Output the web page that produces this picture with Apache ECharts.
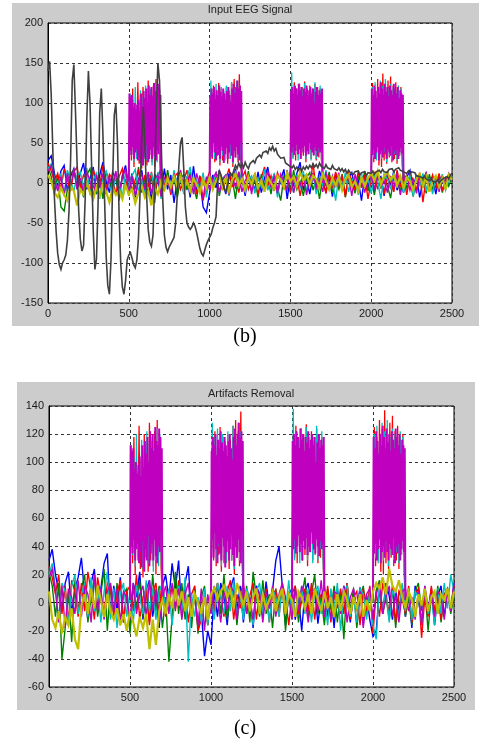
<!DOCTYPE html>
<html>
<head>
<meta charset="utf-8">
<script src="https://cdn.jsdelivr.net/npm/echarts@6/dist/echarts.min.js"></script>
<style>
  html, body { margin: 0; padding: 0; background: #ffffff; }
  #chart { width: 480px; height: 748px; }
</style>
</head>
<body>
<div id="chart"></div>
<script>
// ---- sampling of the stored traces ----
const STEP = 20;            // spacing of the background EEG samples
const DARK_STEP = 10;       // spacing of the ocular artifact samples
const BURST_STARTS = [500, 1000, 1500, 2000];
const BURST_LEN = 200;
const M_BURST_STEP = 4;     // magenta stimulus bursts
const RC_BURST_STEP = 8;    // red / cyan stimulus bursts

// ---- axes ----
const X_RANGE = [0, 2500];
const X_TICK = 500;
const Y_RANGE_B = [-150, 200];
const Y_TICK_B = 50;
const Y_RANGE_C = [-60, 140];
const Y_TICK_C = 20;

// ---- channel colours (blue, green, red, cyan, magenta, olive, dark grey) ----
const CH_COLORS = ['#0000ff', '#008000', '#ff0000', '#00bfbf', '#bf00bf', '#bfbf00', '#404040'];

// ---- (b) input channels ----
const blueB = [
  28, 34, 12, -6, 15, 22, -10, 8, 18, -4,
  12, 25, -8, 6, 20, -14, 10, 26, 2, -12,
  14, 5, -16, 9, 22, -6, 12, -18, 4, 16,
  -10, 7, -22, 11, 3, -15, 18, -8, 10, -25,
  6, 14, -12, 8, -18, 21, -9, 4, -30, -37,
  -12, 10, -6, 15, 3, -14, 12, -4, 18, -10,
  7, -16, 11, 2, -8, 14, -12, 6, 20, -5,
  9, -13, 4, 17, -20, 8, -3, 12, 26, -9,
  5, -14, 10, -6, 15, 2, -11, 7, -17, 12,
  -4, 9, -15, 6, 13, -8, 3, -22, 10, -6,
  14, -10, 5, 8, -16, 11, -3, 15, -9, 4,
  -12, 7, 16, -5, 10, -18, 3, 12, -8, 6,
  -14, 9, 2, -7, 11, 4
];
const greenB = [
  20, 8, -14, 10, -30, -35, -8, 12, 16, -6,
  4, -18, 10, 18, -4, -12, 6, -20, 14, 2,
  -10, 12, -22, 8, 4, -16, 10, -8, 20, -12,
  6, -14, 9, -25, 12, 2, -10, 16, -6, 8,
  -18, 5, 11, -9, 14, -4, -20, 8, 3, -14,
  10, -6, 12, -16, 4, 9, -12, 6, -20, 14,
  2, -8, 15, -10, 5, -18, 11, -3, 8, -14,
  12, -6, -22, 9, 4, -11, 16, -8, 2, -16,
  7, 13, -9, 5, -20, 10, -4, 14, -12, 3,
  -8, 11, -18, 6, 2, -13, 9, -5, 15, -10,
  4, -15, 12, -7, 9, -3, -19, 8, 5, -11,
  13, -6, 3, -17, 10, -2, 7, -13, 11, -8,
  2, 9, -12, 6, -4, 8
];
const redB = [
  25, 15, 2, 12, -8, 18, 4, -10, 14, 20,
  -6, 10, 3, -12, 16, 7, -4, 22, -9, 11,
  5, -14, 8, 18, -6, 12, -10, 4, 15, -8,
  10, -5, 14, -12, 6, 20, -4, 9, -15, 7,
  12, -8, 3, 16, -10, 5, -14, 9, -22, 2,
  14, -6, 8, 12, -9, 4, 18, -5, 10, -12,
  6, 15, -8, 3, 11, -14, 7, 20, -4, 9,
  -10, 13, 2, -7, 16, -12, 5, 9, -16, 6,
  11, -4, 25, -9, 7, 3, -13, 10, -6, 14,
  -2, 8, -17, 12, 4, -9, 15, -6, 10, -20,
  3, 12, -8, 6, -14, 9, 2, -11, 16, -5,
  8, -15, 11, 4, -9, 13, -24, 7, -3, 10,
  -7, 12, -10, 5, 9, 3
];
const cyanB = [
  18, 24, 6, -8, 12, -14, 16, 2, -10, 9,
  14, -6, 19, -15, 4, 12, -20, 8, 15, -4,
  -12, 10, 3, -18, 13, -6, 9, 17, -11, 5,
  -15, 8, 12, -7, 14, -20, 6, 2, -9, 16,
  -5, 11, -14, 7, 20, -10, 4, -8, 13, -18,
  9, -3, 14, -12, 6, 10, -16, 2, 12, -7,
  15, -11, 4, 9, -13, 6, -5, 17, -9, 3,
  11, -18, 8, -4, 14, 2, -12, 10, -7, 15,
  -10, 5, 12, -14, 8, -3, 16, -9, 4, -22,
  10, -6, 13, -11, 3, 8, -15, 12, -4, 7,
  -13, 9, 2, -20, 11, 5, -8, 14, -6, 10,
  -12, 4, 9, -16, 7, -3, 12, -10, 6, -14,
  8, -5, 11, -9, 3, 6
];
const magentaB = [
  15, 22, 4, -10, 8, -16, 12, -5, 18, -8,
  6, -12, 14, 3, -18, 10, -6, 12, -14, 8,
  -4, 15, -10, 6, 18, -12, 9, -16, 4, 11,
  -8, 14, -13, 5, 10, -17, 7, 3, -10, 12,
  -6, 16, -11, 4, 9, -14, 12, -3, -20, 8,
  -9, 6, 13, -12, 4, 10, -15, 7, -5, 14,
  -11, 3, 9, -14, 12, -6, 5, -10, 15, -4,
  8, -13, 11, 2, -8, 16, -12, 6, -3, 10,
  -15, 7, 12, -6, 4, -11, 14, -8, 9, -5,
  13, -10, 3, 8, -16, 11, -4, 7, -12, 6,
  10, -8, 14, -5, 3, -12, 9, -7, 12, -15,
  5, 10, -9, 4, -13, 8, -6, 14, -10, 3,
  7, -11, 9, -4, 12, 2
];
const oliveB = [
  10, 2, -12, -18, -6, -15, -22, -4, -10, -28,
  -8, -14, 0, -12, -20, -5, -16, -2, -11, -24,
  -6, -15, -9, -20, -3, -14, -8, -25, -12, -4,
  -18, -10, -28, -6, -14, 2, -8, 6, -5, 8,
  -4, 9, -8, 3, -10, 6, -2, -12, 4, -6,
  7, -8, 3, 10, -5, 6, -10, 4, 12, -3,
  5, -9, 8, -2, 10, -6, 3, -11, 7, 0,
  -7, 9, 4, -5, 12, 2, 8, -4, 14, 3,
  10, -2, 9, 5, -6, 11, 3, -8, 6, -3,
  8, -9, 4, 10, -5, 2, -10, 7, -4, 6,
  12, 3, 15, -2, 9, 14, 4, 10, -3, 8,
  -6, 7, 2, -9, 5, 11, -4, 8, -11, 3,
  9, -5, 6, -8, 10, 4
];
// ocular artifact channel (large slow swings), every DARK_STEP samples
const darkB = [
  140, 152, 110, 40, -20, -60, -88, -102, -108, -100,
  -96, -90, -72, -35, 30, 128, 148, 90, 25, -35,
  -70, -85, -78, -20, 80, 140, 100, 20, -60, -108,
  -95, -25, 88, 118, 60, -20, -92, -128, -139, -95,
  0, 85, 100, 50, -40, -100, -130, -139, -122, -96,
  -90, -87, -94, -102, -106, -96, -68, -10, 55, 95,
  45, -15, -58, -74, -79, -65, 0, 90, 150, 128,
  55, -20, -65, -80, -86, -80, -76, -72, -68, -50,
  -15, 22, 50, 57, 18, -30, -50, -55, -58, -55,
  -50, -54, -62, -72, -82, -88, -91, -84, -77, -72,
  -70, -64, -56, -50, -42, 2, 16, 10, 2, -7,
  -11, -4, 6, 12, 9, 16, 22, 18, 25, 20,
  24, 19, 26, 21, 18, 24, 22, 28, 25, 31,
  30, 35, 32, 38, 36, 40, 37, 44, 41, 46,
  40, 43, 36, 38, 31, 29, 32, 25, 27, 22,
  24, 19, 22, 17, 20, 16, 19, 15, 20, 17,
  21, 18, 22, 19, 24, 20, 23, 19, 25, 21,
  22, 18, 23, 19, 21, 17, 22, 18, 20, 16,
  19, 15, 18, 14, 17, 12, 16, 13, 15, 11,
  14, 12, 15, 10, 13, 11, 14, 9, 13, 11,
  12, 15, 11, 14, 12, 16, 13, 17, 14, 16,
  13, 17, 15, 18, 14, 17, 15, 19, 16, 18,
  14, 16, 12, 15, 11, 14, 12, 13, 9, 11,
  8, 10, 6, 9, 5, 7, 3, 6, 2, 4,
  1, 4, 0, 3, 2, 6, 4, 8, 5, 10,
  12
];

// ---- (c) channels after artifact removal ----
const blueC = [
  30, 38, 20, 8, -6, 14, 22, -8, 10, 18,
  32, 6, -12, 14, 24, -5, 10, 28, 35, -10,
  12, -6, 18, -14, 8, -20, 14, 4, 22, -12,
  9, 16, -10, 6, -18, 12, 20, 2, 28, 10,
  30, -8, 14, 26, -12, 6, -18, -5, -38, -20,
  -30, 8, -10, 14, 4, -16, 10, 18, -6, 12,
  -14, 8, 3, -18, 12, 6, -10, 15, -4, 9,
  30, 40, 12, -16, 6, 10, -12, 4, -20, 8,
  14, -6, 9, -15, 4, 12, -10, 6, -18, 10,
  -8, 12, 3, -14, 8, -5, 11, -16, 6, -12,
  -24, -20, 10, -8, 14, 5, -12, 9, -6, 12,
  -10, 6, -18, 12, 3, -14, 8, -6, 10, -16,
  5, 12, -10, 8, -4, 14
];
const greenC = [
  22, 12, -10, 14, -40, -18, 8, -28, 16, -6,
  10, 20, -14, 4, 18, -10, 6, 24, -20, 12,
  -8, 14, -16, 6, 10, -22, 12, -4, 16, -10,
  8, -14, 20, -6, 12, -18, 4, -42, -10, 22,
  -8, 14, -12, 6, -18, 10, -22, 4, 12, -16,
  6, -10, 14, -8, 20, -12, 4, 10, -16, 8,
  -6, 12, -14, 22, 4, -10, 16, -8, 6, -18,
  10, -4, 14, -20, 8, -6, 12, -14, 4, 18,
  -12, 6, 20, -8, 4, -16, 10, -5, 12, -14,
  8, -26, 14, -6, 10, -18, 4, 12, -10, 6,
  -14, 9, 16, -8, 4, -12, 10, -18, 6, 12,
  -10, 4, -16, 8, 14, -6, 10, -20, 6, -8,
  12, -14, 6, 10, -8, 4
];
const redC = [
  26, 18, 6, 20, -8, 12, -14, 16, 8, -10,
  14, -6, 22, 8, -12, 18, 4, -8, 14, 10,
  -10, 6, 16, -14, 8, 12, -6, 20, -12, 4,
  10, -16, 6, 14, -8, 18, -10, 4, 12, -6,
  16, -10, 8, -14, 6, 12, -20, -12, 4, -16,
  10, -6, 14, 4, -10, 8, 16, -12, 6, -4,
  12, -8, 5, 14, -12, 8, -4, 10, -14, 6,
  9, -10, 14, 4, -16, 6, 12, -8, 2, 10,
  -6, 14, -12, 8, 4, -10, 12, -14, 6, -4,
  10, -8, 14, -12, 4, 8, -16, 10, -6, 12,
  -22, 8, -10, 14, 4, -6, 12, -14, 8, 3,
  -8, 12, -14, 6, 10, -25, 4, -10, 12, -6,
  8, -12, 5, 10, -6, 12
];
const cyanC = [
  20, 28, 10, -12, 14, 8, -16, 12, 20, -8,
  6, 14, -10, 18, -6, 12, -14, 8, 22, -12,
  10, -18, 6, 14, -10, 8, -14, 12, 4, -8,
  16, -6, 10, -12, 8, 14, -4, 10, -16, 6,
  12, -8, 18, -42, 6, -10, 4, -14, 10, -16,
  8, -12, 14, 4, -8, 12, -6, 16, -10, 6,
  -12, 10, 4, -16, 8, 14, -8, 6, -14, 10,
  4, -10, 12, -6, 16, -12, 8, -4, 12, -8,
  10, -14, 6, 12, -8, 4, -16, 10, -6, 14,
  -20, 8, 12, -10, 4, -14, 10, 6, -12, 8,
  -16, -26, 12, -6, 10, -14, 8, 4, -10, 14,
  -6, 10, -12, 8, 4, -14, 12, -8, 6, -16,
  10, -8, 14, -4, 20, 8
];
const magentaC = [
  18, 24, 8, -14, 12, -18, 10, 4, -8, 16,
  -10, 12, 6, -14, 20, -6, 10, -12, 8, 14,
  -6, 10, -14, 8, 4, -12, 14, -8, 6, 12,
  -10, 16, -6, 10, -14, 4, 12, -8, 14, -4,
  10, -12, 6, 14, -8, 4, -16, 10, -20, 6,
  -8, 12, 4, -14, 10, -6, 12, 8, -12, 6,
  14, -8, 4, -12, 10, 6, -14, 8, -4, 12,
  -10, 6, 14, -8, 4, -12, 10, -6, 12, 4,
  -14, 8, 10, -6, 16, -10, 4, -12, 8, 6,
  -8, 12, -14, 4, 10, -6, 8, -18, 6, 10,
  -12, 6, 14, -8, 4, 12, -10, 6, -14, 8,
  10, -6, 4, -12, 8, -16, 12, -4, 6, -10,
  8, 4, -12, 10, -6, 14
];
const oliveC = [
  8, -12, -18, -6, -22, -10, -16, -4, -26, -33,
  -2, 6, -8, 10, -4, 12, 2, -10, 6, -6,
  -12, -4, -16, -8, -20, -6, -14, -24, -10, -18,
  -8, -33, -12, -30, -6, 2, -8, 6, -4, 10,
  -2, 8, -6, 4, -10, 6, 0, -8, 4, -12,
  6, 10, 2, 8, 12, 4, 9, -4, 14, 6,
  -2, 8, -6, 4, 10, -8, 6, -4, 2, 8,
  -6, 4, 10, -8, 6, 2, -10, 8, 4, -4,
  6, -8, 10, 2, -6, 8, -4, 4, -10, 6,
  -6, 8, 2, -8, 4, -4, 6, -10, 2, -6,
  8, 14, 10, 18, 6, 24, 12, 8, 16, 4,
  -4, 8, 2, -10, 6, -2, 10, -6, 4, 8,
  -8, 6, 2, 10, -4, 8
];

// ---- stimulus bursts (present in both recordings) ----
const magentaBurst = [
  2, 112, 40, 108, 35, 110, 45, 95, 30, 100, 38, 92, 42, 98, 28, 104, 36, 90, 25, 112,
  44, 96, 22, 115, 38, 106, 30, 118, 48, 100, 26, 122, 35, 110, 42, 120, 30, 108, 45, 125,
  33, 115, 28, 112, 40, 124, 36, 118, 50, 110, 0,
  3, 108, 45, 118, 32, 112, 50, 120, 38, 105, 28, 116, 42, 110, 35, 122, 30, 114, 46, 108,
  40, 118, 25, 112, 36, 104, 44, 115, 30, 120, 38, 110, 48, 102, 34, 118, 26, 124, 40, 112,
  32, 120, 45, 128, 36, 118, 28, 122, 50, 115, 2,
  1, 115, 38, 120, 45, 112, 35, 122, 40, 118, 48, 110, 36, 124, 42, 116, 30, 120, 44, 108,
  38, 118, 46, 114, 34, 122, 40, 110, 36, 116, 50, 120, 42, 112, 38, 118, 35, 100, 45, 114,
  40, 120, 33, 110, 44, 116, 38, 112, 42, 118, 0,
  4, 118, 35, 110, 42, 122, 30, 115, 38, 106, 45, 120, 28, 112, 36, 126, 40, 118, 32, 110,
  44, 124, 36, 114, 30, 120, 42, 108, 38, 122, 34, 116, 46, 110, 28, 124, 40, 118, 35, 112,
  42, 120, 30, 106, 38, 116, 44, 112, 36, 110, 2
];
const redBurst = [
  0, 108, 28, 118, 20, 96, 32, 126, 24, 110, 18, 120, 35, 104, 22, 128, 30, 115, 26, 122, 20, 130, 34, 118, 25, 0,
  0, 115, 30, 122, 26, 110, 34, 125, 22, 118, 28, 112, 36, 120, 24, 116, 30, 126, 20, 130, 32, 122, 26, 136, 30, 0,
  0, 120, 32, 126, 28, 118, 36, 124, 30, 120, 34, 127, 26, 118, 38, 122, 30, 115, 34, 124, 28, 120, 32, 118, 30, 0,
  0, 125, 26, 118, 30, 130, 22, 124, 20, 137, 28, 120, 24, 128, 32, 133, 26, 122, 30, 126, 24, 118, 34, 120, 22, 0
];
const cyanBurst = [
  0, 112, 34, 104, 26, 120, 30, 98, 38, 116, 24, 108, 32, 122, 28, 114, 36, 118, 22, 110, 30, 124, 26, 120, 36, 0,
  0, 128, 36, 118, 30, 124, 40, 112, 26, 120, 34, 115, 28, 122, 38, 108, 30, 126, 24, 118, 36, 128, 30, 122, 40, 0,
  0, 138, 30, 122, 36, 116, 28, 124, 34, 118, 40, 125, 30, 112, 36, 120, 28, 118, 34, 126, 30, 116, 38, 122, 32, 0,
  0, 120, 32, 126, 28, 114, 36, 128, 30, 122, 38, 130, 26, 118, 34, 124, 30, 120, 36, 116, 28, 122, 34, 118, 30, 0
];

// ---- helpers that turn the sample lists into [x, y] pairs ----
function evenly(vals, step) {
  return vals.map((v, i) => [i * step, v]);
}
function bursts(vals, step) {
  const per = BURST_LEN / step + 1;
  const out = [];
  BURST_STARTS.forEach((start, b) => {
    for (let k = 0; k < per; k++) out.push([start + k * step, vals[b * per + k]]);
    out.push([start + BURST_LEN, '-']);
  });
  return out;
}

const FONT = 'Liberation Sans, Arial, sans-serif';

function line(data, color, idx, width) {
  return {
    type: 'line', data, xAxisIndex: idx, yAxisIndex: idx,
    symbol: 'none', showSymbol: false, silent: true, animation: false,
    connectNulls: false, clip: true,
    lineStyle: { color, width: width, join: 'miter', miterLimit: 4 },
    itemStyle: { color }
  };
}

function panelSeries(idx, ch, withDark) {
  const s = [
    line(evenly(ch[0], STEP), CH_COLORS[0], idx, 1.4),
    line(evenly(ch[1], STEP), CH_COLORS[1], idx, 1.4),
    line(evenly(ch[2], STEP), CH_COLORS[2], idx, 1.4),
    line(bursts(redBurst, RC_BURST_STEP), CH_COLORS[2], idx, 1.3),
    line(evenly(ch[3], STEP), CH_COLORS[3], idx, 1.4),
    line(bursts(cyanBurst, RC_BURST_STEP), CH_COLORS[3], idx, 1.3),
    line(evenly(ch[4], STEP), CH_COLORS[4], idx, 1.4),
    line(bursts(magentaBurst, M_BURST_STEP), CH_COLORS[4], idx, 2),
    line(evenly(ch[5], STEP), CH_COLORS[5], idx, 2.2)
  ];
  if (withDark) s.push(line(evenly(darkB, DARK_STEP), CH_COLORS[6], idx, 1.6));
  return s;
}

function xAxis(idx) {
  return {
    type: 'value', gridIndex: idx, min: X_RANGE[0], max: X_RANGE[1], interval: X_TICK,
    axisLine: { show: true, lineStyle: { color: '#000', width: 1 } },
    axisTick: { show: false },
    axisLabel: { color: '#1a1a1a', fontSize: 11, fontFamily: FONT, margin: 5, formatter: v => String(v) },
    splitLine: { show: true, lineStyle: { color: '#333', type: [3, 3], width: 1 } }
  };
}
function yAxis(idx, range, tick) {
  return {
    type: 'value', gridIndex: idx, min: range[0], max: range[1], interval: tick,
    axisLine: { show: true, lineStyle: { color: '#000', width: 1 } },
    axisTick: { show: false },
    axisLabel: { color: '#1a1a1a', fontSize: 11, fontFamily: FONT, margin: 5, formatter: v => String(v) },
    splitLine: { show: true, lineStyle: { color: '#333', type: [3, 3], width: 1 } }
  };
}

const chart = echarts.init(document.getElementById('chart'), null, { renderer: 'canvas' });
chart.setOption({
  backgroundColor: '#ffffff',
  animation: false,
  graphic: [
    { type: 'rect', z: -10, shape: { x: 12, y: 3, width: 467, height: 323 }, style: { fill: '#cccccc' } },
    { type: 'rect', z: -10, shape: { x: 17, y: 382, width: 458, height: 328 }, style: { fill: '#cccccc' } }
  ],
  title: [
    { text: 'Input EEG Signal', left: 250, top: 4, textAlign: 'center', padding: 0,
      textStyle: { fontSize: 11, fontWeight: 'normal', color: '#222', fontFamily: FONT } },
    { text: 'Artifacts Removal', left: 251, top: 388, textAlign: 'center', padding: 0,
      textStyle: { fontSize: 11, fontWeight: 'normal', color: '#222', fontFamily: FONT } },
    { text: '(b)', left: 245, top: 327, textAlign: 'center', padding: 0,
      textStyle: { fontSize: 20, fontWeight: 'normal', color: '#000', fontFamily: 'Liberation Serif, Times New Roman, serif' } },
    { text: '(c)', left: 245, top: 719, textAlign: 'center', padding: 0,
      textStyle: { fontSize: 20, fontWeight: 'normal', color: '#000', fontFamily: 'Liberation Serif, Times New Roman, serif' } }
  ],
  grid: [
    { left: 48, top: 23, width: 404, height: 280, show: true, backgroundColor: '#ffffff', borderColor: '#000', borderWidth: 1 },
    { left: 49, top: 406, width: 405, height: 281, show: true, backgroundColor: '#ffffff', borderColor: '#000', borderWidth: 1 }
  ],
  xAxis: [xAxis(0), xAxis(1)],
  yAxis: [yAxis(0, Y_RANGE_B, Y_TICK_B), yAxis(1, Y_RANGE_C, Y_TICK_C)],
  series: [
    ...panelSeries(0, [blueB, greenB, redB, cyanB, magentaB, oliveB], true),
    ...panelSeries(1, [blueC, greenC, redC, cyanC, magentaC, oliveC], false)
  ]
});
</script>
</body>
</html>
